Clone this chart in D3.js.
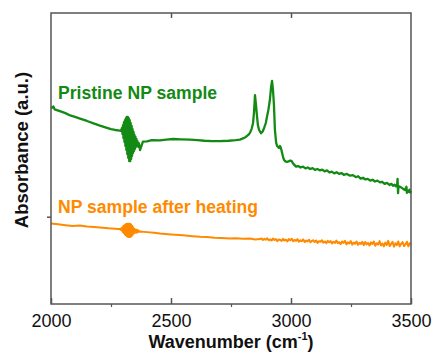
<!DOCTYPE html>
<html><head><meta charset="utf-8">
<script src="https://cdn.jsdelivr.net/npm/d3@7"></script>
<style>body{margin:0;background:#fff}svg{display:block}</style>
</head><body>
<script>
const xTicksMajor = [2000, 2500, 3000, 3500];
const xTicksMinor = [2250, 2750, 3250];
const yTicks = [30];
const labels = ["Pristine NP sample", "NP sample after heating"];

const pristine = [[2000,67.2],[2006,67.6],[2010,67.9],[2015,66.9],[2037,66.3],[2060,65.6],[2080,64.8],[2100,64.3],[2121,63.7],[2150,62.9],[2180,62.0],[2204,61.3],[2230,60.6],[2250,60.1],[2267,59.8],[2280,59.7],
[2292,59.5],[2296,60.5],[2298,58.4],[2300,61.5],[2302,57.0],[2304,62.5],[2306,55.7],[2308,63.2],[2310,54.3],[2312,63.9],[2314,52.9],[2316,64.3],[2318,51.5],[2320,64.3],[2322,50.2],[2324,63.9],[2326,49.1],[2328,63.2],[2330,49.1],[2332,62.2],[2334,49.8],[2336,61.2],[2338,50.9],[2340,60.1],[2342,51.9],[2344,59.1],[2346,52.6],[2348,58.1],[2350,53.3],[2352,57.4],[2354,54.0],[2356,56.7],[2358,54.3],[2360,56.0],[2364,54.0],[2366,55.3],[2371,52.9],[2377,54.3],[2383,55.8],
[2400,55.9],[2420,56.3],[2454,56.2],[2480,56.5],[2510,56.7],[2540,56.6],[2579,56.5],[2610,56.3],[2640,56.1],[2670,56.0],[2704,56.0],[2740,56.1],[2770,56.3],[2787,56.5],[2800,56.9],[2812,57.4],[2822,58.1],[2829,58.8],[2836,60.2],[2842,62.2],[2846,66.0],[2850,71.8],[2854,68.5],[2858,64.9],[2862,61.5],[2867,59.8],[2875,58.7],[2882,59.3],[2888,60.5],[2895,62.2],[2900,64.4],[2906,66.8],[2912,70.1],[2917,74.5],[2921,76.7],[2925,73.5],[2929,68.4],[2933,59.8],[2938,55.5],[2942,54.3],[2947,53.9],[2950,53.6],[2954,54.3],[2958,53.6],[2962,52.2],[2967,50.5],[2971,49.5],[2977,49.0],[2983,48.8],[2990,49.0],[2996,49.3],[3002,49.2],[3008,48.4],[3014,47.8],[3021,47.2],[3030,47.4],[3040,46.9],[3050,47.2],[3060,46.6],[3070,46.9],[3080,46.4],[3090,46.7],[3100,46.1],[3110,46.4],[3121,45.9],[3130,46.2],[3140,45.6],[3150,45.9],[3160,45.2],[3170,45.5],[3180,44.9],[3190,45.3],[3200,44.7],[3210,45.0],[3220,44.4],[3233,44.7],[3246,44.1],[3258,44.3],[3270,43.6],[3280,43.9],[3290,43.1],[3300,43.4],[3310,42.8],[3320,43.0],[3330,42.4],[3340,42.7],[3350,42.1],[3360,42.4],[3371,41.8],[3380,42.0],[3390,41.3],[3400,41.6],[3410,40.9],[3418,41.3],[3425,40.6],[3432,41.0],[3437,40.4],[3442,40.6],[3444,43.0],[3446,38.1],[3448,40.5],[3454,40.3],[3462,39.9],[3470,39.4],[3475,39.2],[3481,40.3],[3483,38.2],[3487,39.0],[3490,38.6],[3494,39.3],[3497,38.3],[3500,38.9]];

const heated = [[2000,27.7],[2030,27.4],[2060,27.1],[2090,26.8],[2121,27.0],[2150,26.6],[2180,26.5],[2204,26.3],[2240,26.0],[2279,25.8],
[2287,25.8],[2290,25.5],[2293,26.0],[2295,25.2],[2298,26.4],[2300,24.7],[2302,26.8],[2304,24.3],[2306,27.1],[2308,23.9],[2310,27.3],[2312,23.6],[2314,27.5],[2316,23.3],[2318,27.6],[2320,23.1],[2322,27.6],[2324,23.0],[2326,27.6],[2328,23.0],[2330,27.5],[2332,23.1],[2334,27.3],[2336,23.4],[2338,26.9],[2340,23.8],[2342,26.4],[2344,24.2],[2346,25.9],[2348,24.5],[2351,25.6],[2354,24.5],[2357,25.5],[2360,24.6],[2364,25.3],[2367,24.8],[2371,24.9],
[2400,24.7],[2430,24.5],[2454,24.2],[2500,23.9],[2550,23.6],[2590,23.3],[2621,23.1],[2650,23.0],[2680,22.8],[2710,22.7],[2746,22.5],[2770,22.6],[2800,22.4],[2830,22.5],[2850,22.2],[2871,22.3],
[2877,22.5],[2883,22.0],[2889,22.4],[2895,22.1],[2901,22.6],[2907,21.9],[2913,22.2],[2919,21.8],[2925,22.5],[2931,22.0],[2937,22.3],[2943,21.6],[2949,22.2],[2955,22.0],[2961,21.7],[2967,22.4],[2973,21.8],[2979,22.1],[2985,21.5],[2991,22.3],[2997,21.9],[3003,22.4],[3009,21.6],[3015,22.0],[3021,21.7],[3027,22.3],[3033,21.4],[3039,21.9],[3045,21.6],[3051,22.2],[3057,21.3],[3063,21.8],[3069,21.5],[3075,22.1],[3081,21.2],[3087,21.7],[3093,21.9],[3099,21.3],[3105,21.8],[3111,21.0],[3117,21.6],[3123,21.4],[3129,21.9],[3135,21.1],[3141,21.5],[3147,20.9],[3153,21.7],[3159,21.2],[3165,21.6],[3171,20.8],[3177,21.4],[3183,21.0],[3189,21.8],[3195,20.9],[3201,21.3],[3207,20.6],[3213,21.5],[3219,21.0],[3225,21.7],[3231,20.5],[3237,21.2],[3243,20.8],[3249,21.6],[3255,20.4],[3261,21.1],[3267,20.7],[3273,21.5],[3279,20.3],[3285,21.0],[3291,20.6],[3297,21.4],[3303,20.2],[3309,21.3],[3315,20.5],[3321,21.0],[3327,20.1],[3333,21.2],[3339,20.6],[3345,21.5],[3351,20.0],[3357,20.9],[3363,20.4],[3369,21.6],[3375,20.1],[3381,20.8],[3387,19.8],[3393,21.1],[3399,20.3],[3405,21.7],[3411,19.9],[3417,20.6],[3423,21.4],[3429,19.7],[3435,20.9],[3441,20.2],[3447,21.5],[3453,19.8],[3459,20.7],[3465,21.3],[3471,19.9],[3477,20.5],[3483,21.4],[3489,19.8],[3495,20.9],[3500,20.4]];

const W = 435, H = 354;
const m = {left: 51, right: 24, top: 13, bottom: 50};
const svg = d3.select("body").append("svg").attr("width", W).attr("height", H);
const x = d3.scaleLinear().domain([2000, 3500]).range([m.left, W - m.right]);
const y = d3.scaleLinear().domain([0, 100]).range([H - m.bottom, m.top]);
const frameColor = "#555";
const font = "Liberation Sans, Arial, sans-serif";

const line = d3.line().x(d => x(d[0])).y(d => y(d[1]));

svg.append("path").datum(heated).attr("d", line).attr("fill", "none")
  .attr("stroke", "#ff8a00").attr("stroke-width", 2).attr("stroke-linejoin", "round");
svg.append("path").datum(pristine).attr("d", line).attr("fill", "none")
  .attr("stroke", "#138a13").attr("stroke-width", 2.3).attr("stroke-linejoin", "round");

// frame
svg.append("rect").attr("x", x(2000)).attr("y", y(100))
  .attr("width", x(3500) - x(2000)).attr("height", y(0) - y(100))
  .attr("fill", "none").attr("stroke", frameColor).attr("stroke-width", 1.5);

// bottom axis
const xb = svg.append("g").attr("transform", `translate(0,${y(0)})`)
  .call(d3.axisBottom(x).tickValues(xTicksMajor).tickSizeInner(-6).tickSizeOuter(0).tickPadding(10).tickFormat(d3.format("d")));
xb.select(".domain").remove();
xb.selectAll("line").attr("stroke", frameColor).attr("stroke-width", 1.5);
xb.selectAll("text").attr("font-family", font).attr("font-size", 18).attr("fill", "#111");
const xm = svg.append("g").attr("transform", `translate(0,${y(0)})`)
  .call(d3.axisBottom(x).tickValues(xTicksMinor).tickSizeInner(3).tickSizeOuter(0).tickFormat(""));
xm.select(".domain").remove();
xm.selectAll("line").attr("stroke", frameColor).attr("stroke-width", 1.2);

// top axis
const xt = svg.append("g").attr("transform", `translate(0,${y(100)})`)
  .call(d3.axisTop(x).tickValues([2500, 3000]).tickSizeInner(-5).tickSizeOuter(0).tickFormat(""));
xt.select(".domain").remove();
xt.selectAll("line").attr("stroke", frameColor).attr("stroke-width", 1.5);

// left axis
const yl = svg.append("g").attr("transform", `translate(${x(2000)},0)`)
  .call(d3.axisLeft(y).tickValues(yTicks).tickSizeInner(4).tickSizeOuter(0).tickFormat(""));
yl.select(".domain").remove();
yl.selectAll("line").attr("stroke", frameColor).attr("stroke-width", 1.5);

// titles
const xt2 = svg.append("text").attr("x", 231).attr("y", 348).attr("text-anchor", "middle")
  .attr("font-family", font).attr("font-size", 18).attr("font-weight", "bold").attr("fill", "#111");
xt2.append("tspan").text("Wavenumber (cm");
xt2.append("tspan").attr("font-size", 11).attr("dy", -8).text("-1");
xt2.append("tspan").attr("dy", 8).text(")");

svg.append("text").attr("transform", "translate(28,150) rotate(-90)").attr("text-anchor", "middle")
  .attr("font-family", font).attr("font-size", 18.5).attr("font-weight", "bold").attr("fill", "#111")
  .text("Absorbance (a.u.)");

svg.append("text").attr("x", 58).attr("y", 99)
  .attr("font-family", font).attr("font-size", 17.6).attr("font-weight", "bold").attr("fill", "#138a13")
  .text(labels[0]);
svg.append("text").attr("x", 58).attr("y", 213)
  .attr("font-family", font).attr("font-size", 17.6).attr("font-weight", "bold").attr("fill", "#ff8a00")
  .text(labels[1]);
</script>
</body></html>
